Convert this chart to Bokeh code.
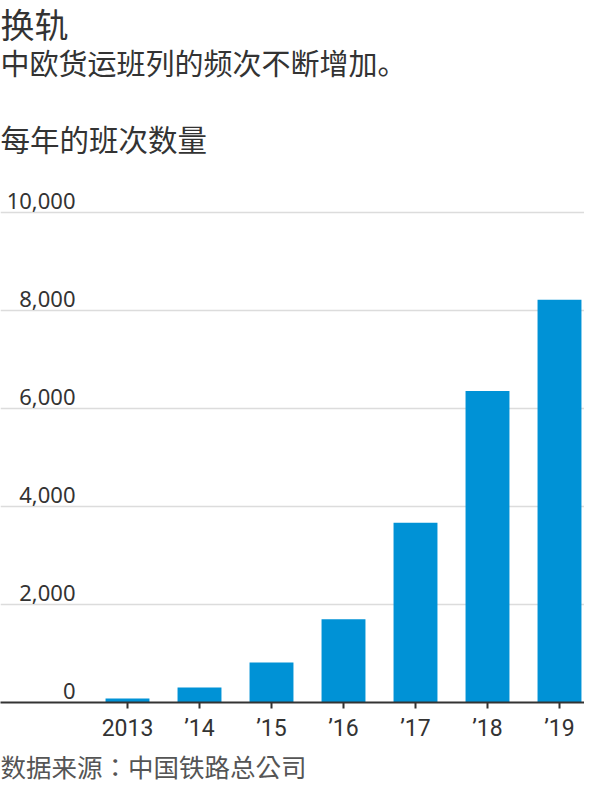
from bokeh.plotting import figure
from bokeh.models import Range1d, FixedTicker, ColumnDataSource, Label, Title
from bokeh.embed import file_html
from bokeh.resources import INLINE
from bokeh.core.properties import value

# ---- data ----
years = ["2013", "\u201914", "\u201915", "\u201916", "\u201917", "\u201918", "\u201919"]
trains = [80, 308, 815, 1702, 3673, 6363, 8225]
y_ticks = [0, 2000, 4000, 6000, 8000, 10000]
y_tick_labels = ["0", "2,000", "4,000", "6,000", "8,000", "10,000"]

title_text = "换轨"
subtitle_text = "中欧货运班列的频次不断增加。"
axis_title_text = "每年的班次数量"
source_text = "数据来源：中国铁路总公司"

# ---- layout ----
W, H = 584, 784
FRAME_H = 702
PX_PER_CAT = 72.0
PX_PER_10K = 489.6
x_start = -127.0 / PX_PER_CAT
x_end = x_start + W / PX_PER_CAT
y_end = 10000.0 * FRAME_H / PX_PER_10K

CJK = "Noto Sans CJK SC"
TXT = "#333333"

p = figure(width=W, height=H, output_backend="svg", toolbar_location=None,
           x_range=Range1d(x_start, x_end), y_range=Range1d(0, y_end),
           min_border_left=0, min_border_right=0, min_border_top=0,
           min_border_bottom=H - FRAME_H, y_axis_location=None)
p.outline_line_color = None
p.background_fill_color = "white"
p.border_fill_color = "white"

idx = list(range(len(years)))
src = ColumnDataSource(dict(x=idx, top=trains, label=years))

p.xgrid.visible = False
p.ygrid.ticker = FixedTicker(ticks=y_ticks)
p.ygrid.grid_line_color = "#dcdcdc"
p.ygrid.grid_line_width = 1.5

p.vbar(x="x", top="top", width=0.61, source=src, fill_color="#0092d6", line_color=None)

# y tick labels sitting above gridlines
ysrc = ColumnDataSource(dict(x=[x_start] * len(y_ticks), y=y_ticks, text=y_tick_labels))
p.text(x="x", y="y", text="text", source=ysrc, x_offset=75, y_offset=-12,
       text_align="right", text_baseline="alphabetic",
       text_font=value("Noto Sans"), text_font_size="22px", text_color=TXT)

# x axis
ax = p.xaxis[0]
ax.ticker = FixedTicker(ticks=idx)
ax.major_label_overrides = {i: lab for i, lab in enumerate(years)}
ax.axis_line_color = TXT
ax.axis_line_width = 2
ax.major_tick_line_color = TXT
ax.major_tick_line_width = 2
ax.major_tick_out = 6
ax.major_tick_in = 0
ax.minor_tick_line_color = None
ax.major_label_standoff = 6
ax.major_label_text_font = "Roboto"
ax.major_label_text_font_size = "23px"
ax.major_label_text_color = TXT

# titles
p.add_layout(Label(x=0, y=FRAME_H - 23, x_units="screen", y_units="screen",
                   text=title_text, text_font=CJK, text_font_size="34px",
                   text_color=TXT, text_baseline="alphabetic"))
p.add_layout(Label(x=0, y=FRAME_H - 61, x_units="screen", y_units="screen",
                   text=subtitle_text, text_font=CJK, text_font_size="29px",
                   text_color=TXT, text_baseline="alphabetic"))
p.add_layout(Label(x=0, y=FRAME_H - 137, x_units="screen", y_units="screen",
                   text=axis_title_text, text_font=CJK, text_font_size="29.5px",
                   text_color=TXT, text_baseline="alphabetic"))

# source note below the axis
p.add_layout(Title(text=source_text, align="left", offset=0, standoff=0,
                   text_font="Noto Sans CJK TC", text_font_size="25.5px",
                   text_font_style="normal", text_color="#555555"), "below")

open("out.html", "w").write(file_html(p, INLINE))
